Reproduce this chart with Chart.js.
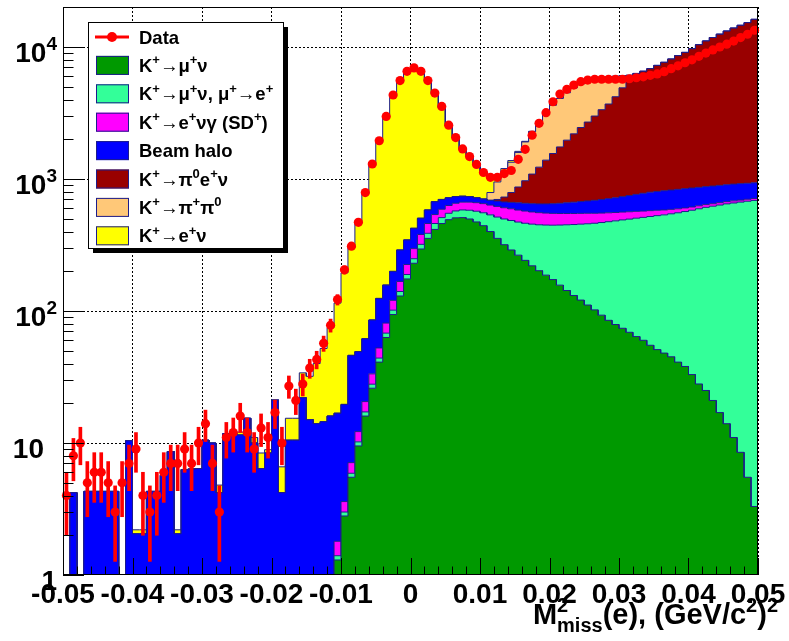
<!DOCTYPE html>
<html>
<head>
<meta charset="utf-8">
<title>M2miss(e) stack</title>
<script src="https://cdn.jsdelivr.net/npm/chart.js@4.4.1/dist/chart.umd.min.js"></script>
<style>
  html, body { margin: 0; padding: 0; background: #fff; }
  #wrap { width: 789px; height: 641px; }
</style>
</head>
<body>
<div id="wrap"><canvas id="mchart" width="789" height="641"></canvas></div>
<script>
// 100 bins of M2miss(e) between -0.05 and 0.05 (GeV/c^2)^2
const nBins = 100;
const xMin = -0.05, xMax = 0.05;
const binWidth = (xMax - xMin) / nBins;
const binCenters = Array.from({ length: nBins }, (_, i) => (xMin + (i + 0.5) * binWidth).toFixed(4));

const dataCounts = [
  4, 8, 10, 5, 6, 6, 5, 3, 5, 7,
  9, 4, 3, 4, 6, 7, 7, 9, 7, 10,
  14, 7, 3, 11, 12, 16, 12, 9, 13, 11,
  17, 10, 27, 21, 28, 37, 43, 57, 78, 122,
  205, 310, 470, 790, 1300, 1950, 2980, 4330, 5570, 6550,
  6950, 6550, 5570, 4480, 3550, 2560, 2060, 1690, 1480, 1290,
  1120, 1030, 1030, 1100, 1160, 1410, 1680, 2150, 2640, 3180,
  3850, 4400, 4780, 5150, 5460, 5620, 5700, 5700, 5700, 5700,
  5700, 5750, 5850, 5950, 6100, 6250, 6500, 6850, 7200, 7600,
  8000, 8500, 9000, 9500, 10000, 10500, 11100, 11800, 12500, 13400
];

// MC components, bottom of the stack first
const kMuNu = [
  0, 0, 0, 0, 0, 0, 0, 0, 0, 0,
  0, 0, 0, 0, 0, 0, 0, 0, 0, 0,
  0, 0, 0, 0, 0, 0, 0, 0, 0, 0,
  0, 0, 0, 0, 0, 0, 0, 0, 0, 1.3,
  2.8, 5.5, 9.5, 16, 26, 41, 63, 94, 130, 175,
  230, 295, 355, 415, 460, 492, 508, 510, 498, 473,
  443, 400, 355, 318, 290, 265, 242, 220, 202, 187,
  173, 157, 143, 131, 121, 111, 102, 93, 85, 79,
  74, 69, 64, 60, 55, 51, 48, 45, 41, 38,
  33, 28, 25, 21, 17, 14, 11, 8.5, 5.5, 3.3
];
const kMuNuMuDecay = [
  0, 0, 0, 0, 0, 0, 0, 0, 0, 0,
  0, 0, 0, 0, 0, 0, 0, 0, 0, 0,
  0, 0, 0, 0, 0, 0, 0, 0, 0, 0,
  0, 0, 0, 0, 0, 0, 0, 0, 0, 0.1,
  0.2, 0.4, 0.7, 1.2, 1.9, 3, 5, 7.5, 10.5, 14,
  19, 25, 33, 45, 50, 58, 65, 73, 82, 97,
  112, 135, 160, 180, 195, 207, 220, 235, 248, 261,
  274, 291, 307, 321, 334, 347, 360, 375, 390, 403,
  416, 428, 441, 452, 465, 477, 487, 500, 514, 529,
  547, 567, 585, 601, 618, 634, 647, 660, 673, 685
];
const kENuGammaSD = [
  0, 0, 0, 0, 0, 0, 0, 0, 0, 0,
  0, 0, 0, 0, 0, 0, 0, 0, 0, 0,
  0, 0, 0, 0, 0, 0, 0, 0, 0, 0,
  0, 0, 0, 0, 0, 0, 0, 0, 0, 0.4,
  0.6, 1.2, 2, 3.4, 5.5, 8.5, 13, 19, 27, 36,
  48, 60, 72, 78, 80, 80, 82, 85, 88, 92,
  96, 100, 105, 108, 110, 110, 110, 108, 106, 104,
  102, 100, 98, 96, 94, 92, 88, 84, 80, 76,
  72, 68, 64, 60, 56, 52, 48, 44, 40, 37,
  34, 32, 30, 28, 27, 26, 25, 24, 24, 24
];
const beamHalo = [
  0, 4.2, 0, 4.3, 4.3, 4.3, 4.3, 4.3, 0, 10.4,
  2.05, 2.05, 4.3, 4.3, 5.7, 8.6, 2.05, 6.3, 6.3, 6.4,
  10.5, 10, 4.2, 11.8, 11.8, 11.5, 15.4, 10, 6.4, 8.4,
  21, 4.2, 10.5, 10.5, 22, 15, 14, 14.5, 16, 15,
  16, 39, 37, 41, 52, 72, 76, 79, 122, 120,
  126, 124, 122, 135, 110, 90, 80, 72, 67, 58,
  54, 55, 60, 64, 70, 78, 83, 87, 92, 96,
  101, 107, 112, 120, 126, 132, 140, 148, 155, 162,
  173, 185, 196, 208, 219, 225, 232, 236, 240, 241,
  241, 238, 235, 235, 233, 231, 232, 230, 226, 223
];
const kPi0ENu = [
  0, 0, 0, 0, 0, 0, 0, 0, 0, 0,
  0, 0, 0, 0, 0, 0, 0, 0, 0, 0,
  0, 0, 0, 0, 0, 0, 0, 0, 0, 0,
  0, 0, 0, 0, 0, 0, 0, 0, 0, 0,
  0, 0, 0, 0, 0, 0, 0, 0, 0, 0,
  0, 0, 0, 0, 0, 0, 0, 0, 0, 0,
  0, 0, 20, 60, 125, 210, 315, 440, 582, 742,
  910, 1095, 1310, 1530, 1780, 2020, 2310, 2650, 2990, 3480,
  4170, 5350, 5540, 5770, 6060, 6450, 6840, 7280, 7770, 8260,
  8850, 9540, 10230, 10920, 11610, 12300, 12990, 13680, 14370, 15270
];
const kPiPi0 = [
  0, 0, 0, 0, 0, 0, 0, 0, 0, 0,
  0, 0, 0, 0, 0, 0, 0, 0, 0, 0,
  0, 0, 0, 0, 0, 0, 0, 0, 0, 0,
  0, 0, 0, 0, 0, 0, 0, 0, 0, 0,
  0, 0, 0, 0, 0, 0, 0, 0, 0, 0,
  0, 0, 0, 0, 0, 0, 0, 0, 0, 0,
  0, 100, 250, 410, 550, 720, 940, 1195, 1480, 1755,
  2060, 2330, 2530, 2700, 2780, 2780, 2680, 2480, 2230, 1800,
  1150, 0, 0, 0, 0, 0, 0, 0, 0, 0,
  0, 0, 0, 0, 0, 0, 0, 0, 0, 0
];
const kENu = [
  0, 0, 0, 0, 0, 0, 0, 0, 0, 0,
  0.15, 0.15, 0, 0, 0, 0, 0.15, 0, 0.1, 0,
  0, 0, 0.6, 0, 0.3, 0.6, 0, 1, 2, 0.5,
  0.3, 2.4, 4.9, 4.9, 12, 17, 26, 37.5, 59, 98,
  175, 254, 411, 708, 1185, 1795, 2773, 4081, 5210, 6105,
  6427, 5966, 4918, 3747, 2780, 1800, 1305, 940, 735, 560,
  425, 250, 120, 60, 40, 30, 20, 15, 10, 5,
  0, 0, 0, 0, 0, 0, 0, 0, 0, 0,
  0, 0, 0, 0, 0, 0, 0, 0, 0, 0,
  0, 0, 0, 0, 0, 0, 0, 0, 0, 0
];

const xTickValues = [-0.05, -0.04, -0.03, -0.02, -0.01, 0, 0.01, 0.02, 0.03, 0.04, 0.05];
const xTickLabels = ['-0.05', '-0.04', '-0.03', '-0.02', '-0.01', '0', '0.01', '0.02', '0.03', '0.04', '0.05'];
const yTickValues = [1, 10, 100, 1000, 10000];
const yTickLabels = ['1', '10', '10^{2}', '10^{3}', '10^{4}'];
const xTitle = 'M^{2}_{miss}(e), (GeV/c^{2})^{2}';

const layers = [
  { name: 'K^{+}→μ^{+}ν', values: kMuNu, color: '#009900' },
  { name: 'K^{+}→μ^{+}ν, μ^{+}→e^{+}', values: kMuNuMuDecay, color: '#33ff99' },
  { name: 'K^{+}→e^{+}νγ (SD^{+})', values: kENuGammaSD, color: '#ff00ff' },
  { name: 'Beam halo', values: beamHalo, color: '#0000ff' },
  { name: 'K^{+}→π^{0}e^{+}ν', values: kPi0ENu, color: '#990000' },
  { name: 'K^{+}→π^{+}π^{0}', values: kPiPi0, color: '#ffc878' },
  { name: 'K^{+}→e^{+}ν', values: kENu, color: '#ffff00' }
];
const outline = '#1c1c8c';
const dataRed = '#ff0000';
const FONT = "'Liberation Sans', Arial, Helvetica, sans-serif";
const AXIS_FONT = 28;
// empty running sums sit below the log axis floor
const FLOOR = 1e-3;

// text with ^{} and _{} pieces, sup and sub can share one slot
function richText(ctx, str, x, y, size, align) {
  const parts = [];
  const re = /([\^_])\{([^}]*)\}/g;
  let last = 0, m;
  while ((m = re.exec(str))) {
    if (m.index > last) parts.push({ t: str.slice(last, m.index), k: '' });
    parts.push({ t: m[2], k: m[1] });
    last = re.lastIndex;
  }
  if (last < str.length) parts.push({ t: str.slice(last), k: '' });

  const small = Math.round(size * 0.68);
  let w = 0;
  const placed = [];
  for (let i = 0; i < parts.length; i++) {
    const p = parts[i];
    const fs = p.k ? small : size;
    ctx.font = 'bold ' + fs + 'px ' + FONT;
    const pw = ctx.measureText(p.t).width;
    const prev = placed[placed.length - 1];
    if (p.k === '_' && prev && prev.k === '^') {
      // stack under the superscript
      placed.push({ t: p.t, k: p.k, fs, x: prev.x });
      w = Math.max(w, prev.x + pw);
      continue;
    }
    placed.push({ t: p.t, k: p.k, fs, x: w });
    w += pw;
  }
  const x0 = align === 'right' ? x - w : align === 'center' ? x - w / 2 : x;
  ctx.textAlign = 'left';
  ctx.textBaseline = 'alphabetic';
  for (const p of placed) {
    ctx.font = 'bold ' + p.fs + 'px ' + FONT;
    const dy = p.k === '^' ? -size * 0.42 : p.k === '_' ? size * 0.28 : 0;
    ctx.fillText(p.t, x0 + p.x, y + dy);
  }
  return w;
}

const isDecade = (v) => v >= 10 && Math.abs(Math.log10(v) - Math.round(Math.log10(v))) < 1e-6;

const overlay = {
  id: 'overlay',
  afterDraw(chart) {
    const { ctx, chartArea: a, scales } = chart;
    const y = scales.y, xv = scales.xv;
    ctx.save();
    ctx.fillStyle = '#000';
    ctx.strokeStyle = '#000';
    ctx.lineWidth = 1;

    // inward ticks on the left and bottom axes
    ctx.beginPath();
    for (let d = 0; d <= 4; d++) {
      for (let k = 1; k <= 9; k++) {
        const v = k * Math.pow(10, d);
        if (v > y.max) break;
        const py = Math.round(y.getPixelForValue(v)) + 0.5;
        const len = k === 1 ? 21 : 10.5;
        ctx.moveTo(a.left, py);
        ctx.lineTo(a.left + len, py);
      }
    }
    for (let k = -50; k <= 50; k += 2) {
      const px = Math.round(xv.getPixelForValue(k / 1000)) + 0.5;
      const len = k % 10 === 0 ? 17 : 8.5;
      ctx.moveTo(px, a.bottom);
      ctx.lineTo(px, a.bottom - len);
    }
    ctx.stroke();
    ctx.strokeRect(a.left + 0.5, a.top + 0.5, a.right - a.left - 1, a.bottom - a.top - 1);

    // x labels
    xTickValues.forEach((v, i) => {
      richText(ctx, xTickLabels[i], xv.getPixelForValue(v), a.bottom + 28, AXIS_FONT, 'center');
    });

    // y labels; a bare "10" lines up with the other mantissas
    yTickValues.forEach((v, i) => {
      const py = y.getPixelForValue(v) + 15;
      const lab = yTickLabels[i];
      const right = lab === '10' ? a.left - 19 : a.left - 6;
      richText(ctx, lab, right, py, AXIS_FONT, 'right');
    });

    // axis title
    richText(ctx, xTitle, 778, 624, 29, 'right');

    // legend box with shadow
    const lg = { x: 88, y: 22, w: 195, h: 226 };
    ctx.fillStyle = '#000';
    ctx.fillRect(lg.x + 5, lg.y + 5, lg.w, lg.h);
    ctx.fillStyle = '#fff';
    ctx.fillRect(lg.x, lg.y, lg.w, lg.h);
    ctx.strokeRect(lg.x + 0.5, lg.y + 0.5, lg.w, lg.h);

    const rowY = (i) => 37 + i * 28.4;
    // Data entry
    ctx.strokeStyle = dataRed;
    ctx.lineWidth = 3;
    ctx.beginPath();
    ctx.moveTo(95, rowY(0));
    ctx.lineTo(129, rowY(0));
    ctx.stroke();
    ctx.fillStyle = dataRed;
    ctx.beginPath();
    ctx.arc(112, rowY(0), 5, 0, Math.PI * 2);
    ctx.fill();
    ctx.fillStyle = '#000';
    richText(ctx, 'Data', 139, rowY(0) + 6.5, 18.5, 'left');

    layers.forEach((l, i) => {
      const ry = rowY(i + 1);
      ctx.fillStyle = l.color;
      ctx.fillRect(96, ry - 9.5, 33, 19);
      ctx.strokeStyle = outline;
      ctx.lineWidth = 1;
      ctx.strokeRect(96.5, ry - 9, 32, 18);
      ctx.fillStyle = '#000';
      richText(ctx, l.name, 139, ry + 6.5, 18.5, 'left');
    });
    ctx.restore();
  }
};

// stacked histogram: every running sum is a step line filled down to the one below
const datasets = [];
let running = new Array(nBins).fill(0);
layers.forEach((l, k) => {
  running = running.map((v, i) => v + l.values[i]);
  const pts = [];
  running.forEach((v, i) => {
    const yv = Math.max(v, FLOOR);
    pts.push({ x: xMin + i * binWidth, y: yv });
    pts.push({ x: xMin + (i + 1) * binWidth, y: yv });
  });
  datasets.push({
    type: 'line',
    label: l.name,
    data: pts,
    xAxisID: 'xv',
    stack: 'layer' + k,
    borderColor: outline,
    borderWidth: 1,
    backgroundColor: l.color,
    fill: k === 0 ? 'origin' : '-1',
    pointRadius: 0,
    tension: 0,
    order: 3
  });
});

// Poisson error bars of the data
datasets.push({
  type: 'bar',
  label: 'errors',
  data: dataCounts.map((n) => [n - Math.sqrt(n), n + Math.sqrt(n)]),
  backgroundColor: dataRed,
  stack: 'err',
  grouped: false,
  barThickness: 3,
  order: 1
});

datasets.push({
  type: 'line',
  label: 'Data',
  data: dataCounts,
  stack: 'data',
  showLine: false,
  pointRadius: 4.6,
  pointBackgroundColor: dataRed,
  pointBorderWidth: 0,
  order: 0
});

new Chart(document.getElementById('mchart'), {
  type: 'bar',
  data: { labels: binCenters, datasets },
  options: {
    responsive: false,
    devicePixelRatio: 1,
    animation: false,
    events: [],
    layout: { padding: { left: 63, right: 31, top: 7, bottom: 0 } },
    plugins: { legend: { display: false }, tooltip: { enabled: false }, filler: { propagate: false } },
    scales: {
      x: { type: 'category', stacked: true, display: false, offset: true },
      xv: {
        type: 'linear',
        position: 'bottom',
        min: xMin,
        max: xMax,
        offset: false,
        grid: { color: '#000', lineWidth: 1, drawTicks: false, offset: false },
        border: { display: false, dash: [2, 2] },
        ticks: { stepSize: 0.01, display: false },
        afterFit: (s) => { s.height = 66; }
      },
      y: {
        type: 'logarithmic',
        stacked: true,
        min: 1,
        max: 20100,
        grid: {
          color: (c) => (c.tick && isDecade(c.tick.value) ? '#000' : 'rgba(0,0,0,0)'),
          lineWidth: 1,
          drawTicks: false
        },
        border: { display: false, dash: [2, 2] },
        ticks: { display: false },
        afterFit: (s) => { s.width = 0; }
      }
    }
  },
  plugins: [overlay]
});
</script>
</body>
</html>
